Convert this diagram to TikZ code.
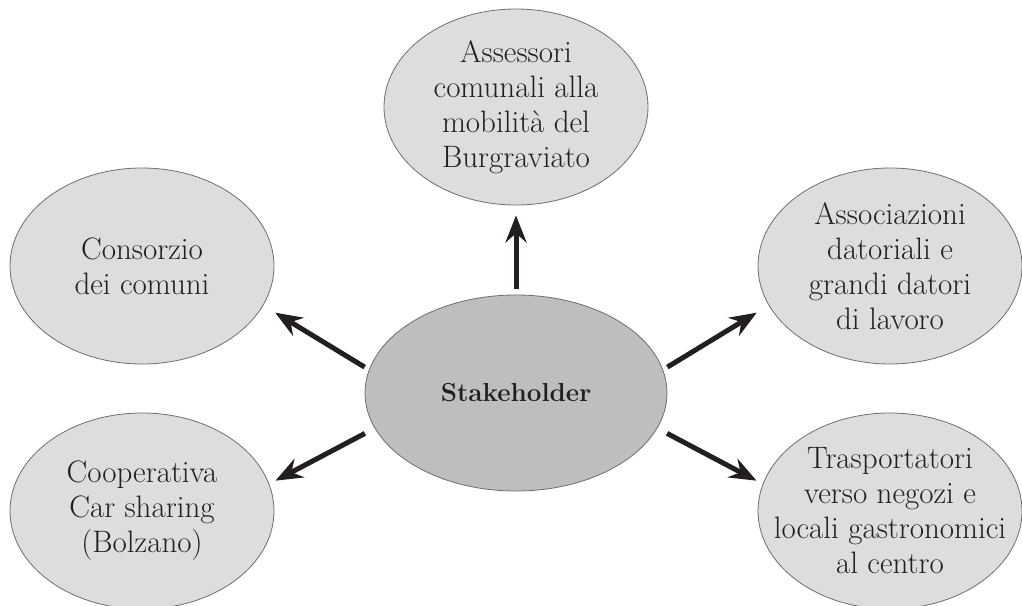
\documentclass[tikz,border=0pt]{standalone}
\usepackage{fontspec}
\usetikzlibrary{shapes.geometric,arrows.meta}
\definecolor{bubblefill}{HTML}{DCDDDE}
\definecolor{hubfill}{HTML}{BCBEC0}
\definecolor{rim}{HTML}{6D6E71}
\definecolor{ink}{HTML}{231F20}

\begin{document}
\begin{tikzpicture}[x=1pt,y=-1pt,
    bubble/.style={ellipse,draw=rim,line width=.8pt,fill=bubblefill,minimum width=264pt,minimum height=196pt,
      inner sep=0pt,align=center,text=ink,font=\fontsize{31}{35}\selectfont},
    hub/.style={bubble,fill=hubfill,minimum width=302pt,font=\fontsize{26}{30}\selectfont\bfseries},
    arr/.style={line width=5pt,color=ink,-{Stealth[length=27pt,width=21pt,inset=9pt]}}]
      \path[use as bounding box,clip] (0,0) rectangle (1022,605);

      \node (hub) at (516,393) [hub] {Stakeholder};

      \node (assess) at (516,107) [bubble] {Assessori\\comunali alla\\mobilità del\\Burgraviato};
      \node (consorzio) at (142,266) [bubble] {Consorzio\\dei comuni};
      \node (assoc) at (890,266) [bubble] {Associazioni\\datoriali e\\grandi datori\\di lavoro};
      \node (coop) at (142,511) [bubble] {Cooperativa\\Car sharing\\(Bolzano)};
      \node (trasp) at (890,511) [bubble] {Trasportatori\\verso negozi e\\\makebox[0pt]{locali gastronomici}\\al centro};

      \path[arr,shorten <=6pt,shorten >=10pt] (hub.north) edge (assess.south);
      \path[arr,shorten <=5pt,shorten >=14pt] (hub.9) edge (assoc.198);
      \path[arr,shorten <=5pt,shorten >=14pt] (hub.171) edge (consorzio.-18);
      \path[arr,shorten <=11pt,shorten >=7pt] (hub.-14) edge (trasp.168);
      \path[arr,shorten <=11pt,shorten >=7pt] (hub.194) edge (coop.12);

    \end{tikzpicture}
\end{document}
